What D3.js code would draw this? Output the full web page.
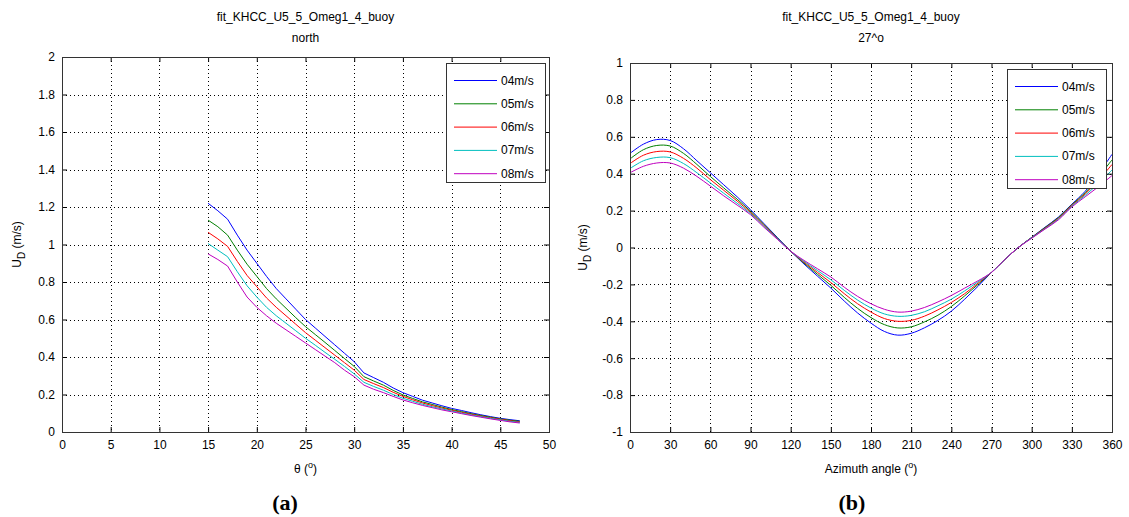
<!DOCTYPE html>
<html lang="en">
  <head>
    <meta charset="utf-8" />
    <title>fit_KHCC_U5_5_Omeg1_4_buoy</title>
    <style>
      body {
        margin: 0;
        background: #fff;
        overflow: hidden;
      }
      svg {
        display: block;
      }
      text {
        font-family: 'Liberation Sans', Arial, sans-serif;
        fill: #000;
      }
    </style>
  </head>
  <body>
    <div class="container"></div>
    <script src="https://cdn.jsdelivr.net/npm/d3@7"></script>
    <script>
      // ---- data ----
      const speeds = ['04m/s', '05m/s', '06m/s', '07m/s', '08m/s'];
      const colors = ['#0000ff', '#008000', '#ff0000', '#00bfbf', '#bf00bf'];

      // panel (a): U_D vs theta, direction north
      const theta = [15, 16, 17, 18, 19, 20, 21, 22, 23, 24, 25, 26, 27, 28, 29, 30, 31,
        32, 33, 34, 35, 36, 37, 38, 39, 40, 41, 42, 43, 44, 45, 46, 47];
      const udTheta04 = [1.22, 1.18, 1.135, 1.05, 0.97, 0.9, 0.83, 0.765, 0.71, 0.655, 0.6,
        0.555, 0.51, 0.465, 0.42, 0.375, 0.315, 0.29, 0.265, 0.235, 0.21, 0.19, 0.17, 0.155,
        0.14, 0.126, 0.115, 0.103, 0.092, 0.082, 0.073, 0.066, 0.06];
      const udTheta05 = [1.13, 1.095, 1.05, 0.97, 0.895, 0.83, 0.765, 0.71, 0.66, 0.61, 0.562,
        0.52, 0.478, 0.435, 0.392, 0.35, 0.295, 0.272, 0.25, 0.222, 0.198, 0.179, 0.161, 0.147,
        0.133, 0.12, 0.109, 0.098, 0.088, 0.079, 0.07, 0.063, 0.057];
      const udTheta06 = [1.065, 1.03, 0.99, 0.91, 0.835, 0.775, 0.715, 0.665, 0.62, 0.575, 0.53,
        0.49, 0.45, 0.41, 0.37, 0.33, 0.28, 0.258, 0.237, 0.212, 0.19, 0.172, 0.155, 0.141,
        0.128, 0.116, 0.105, 0.095, 0.085, 0.076, 0.068, 0.06, 0.054];
      const udTheta07 = [1.005, 0.97, 0.935, 0.855, 0.78, 0.72, 0.665, 0.62, 0.58, 0.54, 0.5,
        0.463, 0.425, 0.388, 0.35, 0.31, 0.265, 0.243, 0.223, 0.2, 0.18, 0.164, 0.148, 0.135,
        0.123, 0.112, 0.101, 0.091, 0.082, 0.073, 0.065, 0.057, 0.051];
      const udTheta08 = [0.95, 0.92, 0.885, 0.8, 0.72, 0.665, 0.62, 0.58, 0.545, 0.51, 0.475,
        0.44, 0.405, 0.37, 0.33, 0.295, 0.25, 0.228, 0.21, 0.19, 0.171, 0.156, 0.142, 0.13,
        0.118, 0.108, 0.098, 0.088, 0.079, 0.07, 0.062, 0.054, 0.048];

      // panel (b): U_D vs azimuth, theta = 27 deg
      const azimuth = [0, 10, 20, 30, 40, 50, 60, 70, 80, 90, 100, 110, 120, 130, 140, 150,
        160, 170, 180, 190, 200, 210, 220, 230, 240, 250, 260, 270, 280, 290, 300, 310, 320,
        330, 340, 350, 360];
      const udAz04 = [0.51, 0.56, 0.585, 0.58, 0.535, 0.47, 0.405, 0.34, 0.275, 0.205, 0.13,
        0.055, -0.02, -0.09, -0.155, -0.22, -0.29, -0.355, -0.41, -0.455, -0.475, -0.465, -0.435,
        -0.395, -0.345, -0.28, -0.21, -0.135, -0.065, 0.0, 0.055, 0.11, 0.165, 0.235, 0.305,
        0.4, 0.505];
      const udAz05 = [0.48, 0.53, 0.553, 0.55, 0.51, 0.45, 0.385, 0.323, 0.262, 0.197, 0.125,
        0.052, -0.02, -0.085, -0.145, -0.205, -0.27, -0.33, -0.38, -0.418, -0.436, -0.43, -0.403,
        -0.367, -0.32, -0.262, -0.2, -0.135, -0.065, 0.0, 0.054, 0.108, 0.162, 0.232, 0.297,
        0.383, 0.475];
      const udAz06 = [0.455, 0.5, 0.52, 0.518, 0.483, 0.43, 0.368, 0.31, 0.252, 0.19, 0.12,
        0.05, -0.02, -0.08, -0.135, -0.19, -0.25, -0.305, -0.35, -0.385, -0.4, -0.395, -0.372,
        -0.338, -0.298, -0.25, -0.193, -0.135, -0.065, 0.0, 0.053, 0.105, 0.158, 0.228, 0.29,
        0.365, 0.45];
      const udAz07 = [0.428, 0.47, 0.488, 0.487, 0.455, 0.405, 0.35, 0.294, 0.24, 0.184, 0.115,
        0.048, -0.02, -0.075, -0.125, -0.175, -0.232, -0.285, -0.328, -0.36, -0.373, -0.368,
        -0.348, -0.316, -0.28, -0.235, -0.186, -0.135, -0.065, 0.0, 0.052, 0.102, 0.154, 0.224,
        0.283, 0.348, 0.42];
      const udAz08 = [0.405, 0.44, 0.458, 0.458, 0.43, 0.385, 0.333, 0.28, 0.23, 0.178, 0.11,
        0.045, -0.02, -0.07, -0.115, -0.16, -0.215, -0.265, -0.305, -0.335, -0.35, -0.345,
        -0.325, -0.295, -0.26, -0.22, -0.18, -0.135, -0.065, 0.0, 0.05, 0.1, 0.15, 0.22, 0.275,
        0.33, 0.39];

      const thetaTicks = [0, 5, 10, 15, 20, 25, 30, 35, 40, 45, 50];
      const udThetaTicks = [0, 0.2, 0.4, 0.6, 0.8, 1, 1.2, 1.4, 1.6, 1.8, 2];
      const azTicks = [0, 30, 60, 90, 120, 150, 180, 210, 240, 270, 300, 330, 360];
      const udAzTicks = [-1, -0.8, -0.6, -0.4, -0.2, 0, 0.2, 0.4, 0.6, 0.8, 1];

      // ---- layout ----
      const width = 1129;
      const height = 517;
      const svg = d3
        .select('div.container')
        .append('svg')
        .attr('width', width)
        .attr('height', height);

      function drawPanel(p) {
        const x = d3.scaleLinear().domain(p.xDomain).range([p.left, p.right]);
        const y = d3.scaleLinear().domain(p.yDomain).range([p.bottom, p.top]);
        const g = svg.append('g');

        // dotted grid
        g.append('g')
          .selectAll('line')
          .data(p.xTicks.filter((t) => t > p.xDomain[0] && t < p.xDomain[1]))
          .join('line')
          .attr('x1', (d) => Math.round(x(d)) + 0.5)
          .attr('x2', (d) => Math.round(x(d)) + 0.5)
          .attr('y1', p.top)
          .attr('y2', p.bottom)
          .attr('stroke', '#000')
          .attr('stroke-dasharray', '1,3');
        g.append('g')
          .selectAll('line')
          .data(p.yTicks.filter((t) => t > p.yDomain[0] && t < p.yDomain[1]))
          .join('line')
          .attr('y1', (d) => Math.round(y(d)) + 0.5)
          .attr('y2', (d) => Math.round(y(d)) + 0.5)
          .attr('x1', p.left)
          .attr('x2', p.right)
          .attr('stroke', '#000')
          .attr('stroke-dasharray', '1,3');

        // curves
        const line = d3
          .line()
          .x((d) => x(d[0]))
          .y((d) => y(d[1]))
          .curve(p.curve);
        p.series.forEach((s, i) => {
          g.append('path')
            .datum(p.xs.map((v, j) => [v, s[j]]))
            .attr('fill', 'none')
            .attr('stroke', colors[i])
            .attr('stroke-width', 1)
            .attr('d', line);
        });

        // axes with inward ticks on all four sides
        const fmt = (d) => String(+d.toFixed(1));
        g.append('g')
          .attr('transform', `translate(0,${p.bottom})`)
          .call(d3.axisBottom(x).tickValues(p.xTicks).tickFormat(fmt).tickSize(-5).tickPadding(8));
        g.append('g')
          .attr('transform', `translate(0,${p.top})`)
          .call(d3.axisTop(x).tickValues(p.xTicks).tickFormat('').tickSize(-5));
        g.append('g')
          .attr('transform', `translate(${p.left},0)`)
          .call(d3.axisLeft(y).tickValues(p.yTicks).tickFormat(fmt).tickSize(-5).tickPadding(7));
        g.append('g')
          .attr('transform', `translate(${p.right},0)`)
          .call(d3.axisRight(y).tickValues(p.yTicks).tickFormat('').tickSize(-5));
        g.selectAll('.tick text')
          .style('font-family', "'Liberation Sans', Arial, sans-serif")
          .style('font-size', '12px');
        g.selectAll('.tick line').attr('stroke', '#000');
        g.selectAll('.domain').remove();
        g.append('rect')
          .attr('x', p.left + 0.5)
          .attr('y', p.top + 0.5)
          .attr('width', p.right - p.left)
          .attr('height', p.bottom - p.top)
          .attr('fill', 'none')
          .attr('stroke', '#333');

        // titles
        const cx = (p.left + p.right) / 2;
        g.append('text')
          .attr('x', cx)
          .attr('y', 21)
          .attr('text-anchor', 'middle')
          .style('font-size', '12px')
          .text('fit_KHCC_U5_5_Omeg1_4_buoy');
        g.append('text')
          .attr('x', cx)
          .attr('y', 42)
          .attr('text-anchor', 'middle')
          .style('font-size', '12px')
          .text(p.subtitle);

        // x label
        const xl = g
          .append('text')
          .attr('x', cx)
          .attr('y', 473)
          .attr('text-anchor', 'middle')
          .style('font-size', '12px');
        xl.append('tspan').text(p.xLabel + ' (');
        xl.append('tspan').attr('dy', -5).style('font-size', '9px').text('o');
        xl.append('tspan').attr('dy', 5).text(')');

        // y label
        const yl = g
          .append('text')
          .attr('transform', `translate(${p.yLabelX},${(p.top + p.bottom) / 2}) rotate(-90)`)
          .attr('text-anchor', 'middle')
          .style('font-size', '12px');
        yl.append('tspan').text('U');
        yl.append('tspan').attr('dy', 4).style('font-size', '10px').text('D');
        yl.append('tspan').attr('dy', -4).text(' (m/s)');

        // legend
        const lg = g.append('g').attr('transform', `translate(${p.legendX},${p.top + 6})`);
        lg.append('rect')
          .attr('x', 0.5)
          .attr('y', 0.5)
          .attr('width', 99)
          .attr('height', 119)
          .attr('fill', '#fff')
          .attr('stroke', '#333');
        speeds.forEach((s, i) => {
          const ly = 17 + i * 23.3;
          lg.append('line')
            .attr('x1', 8)
            .attr('x2', 51)
            .attr('y1', ly + 0.5)
            .attr('y2', ly + 0.5)
            .attr('stroke', colors[i]);
          lg.append('text')
            .attr('x', 55)
            .attr('y', ly + 4.5)
            .style('font-size', '12px')
            .text(s);
        });

        // panel letter
        svg
          .append('text')
          .attr('x', p.letterX)
          .attr('y', 510)
          .attr('text-anchor', 'middle')
          .style('font-family', "'Liberation Serif', 'DejaVu Serif', serif")
          .style('font-weight', 'bold')
          .style('font-size', '22px')
          .text(p.letter);
      }

      drawPanel({
        left: 62,
        right: 549,
        top: 57,
        bottom: 432,
        xDomain: [0, 50],
        yDomain: [0, 2],
        xTicks: thetaTicks,
        yTicks: udThetaTicks,
        xs: theta,
        series: [udTheta04, udTheta05, udTheta06, udTheta07, udTheta08],
        curve: d3.curveLinear,
        subtitle: 'north',
        xLabel: 'θ',
        yLabelX: 21,
        legendX: 446,
        letter: '(a)',
        letterX: 285,
      });

      drawPanel({
        left: 630,
        right: 1112,
        top: 63,
        bottom: 432,
        xDomain: [0, 360],
        yDomain: [-1, 1],
        xTicks: azTicks,
        yTicks: udAzTicks,
        xs: azimuth,
        series: [udAz04, udAz05, udAz06, udAz07, udAz08],
        curve: d3.curveCatmullRom.alpha(0.5),
        subtitle: '27^o',
        xLabel: 'Azimuth angle',
        yLabelX: 587,
        legendX: 1007,
        letter: '(b)',
        letterX: 852,
      });
    </script>
  </body>
</html>
